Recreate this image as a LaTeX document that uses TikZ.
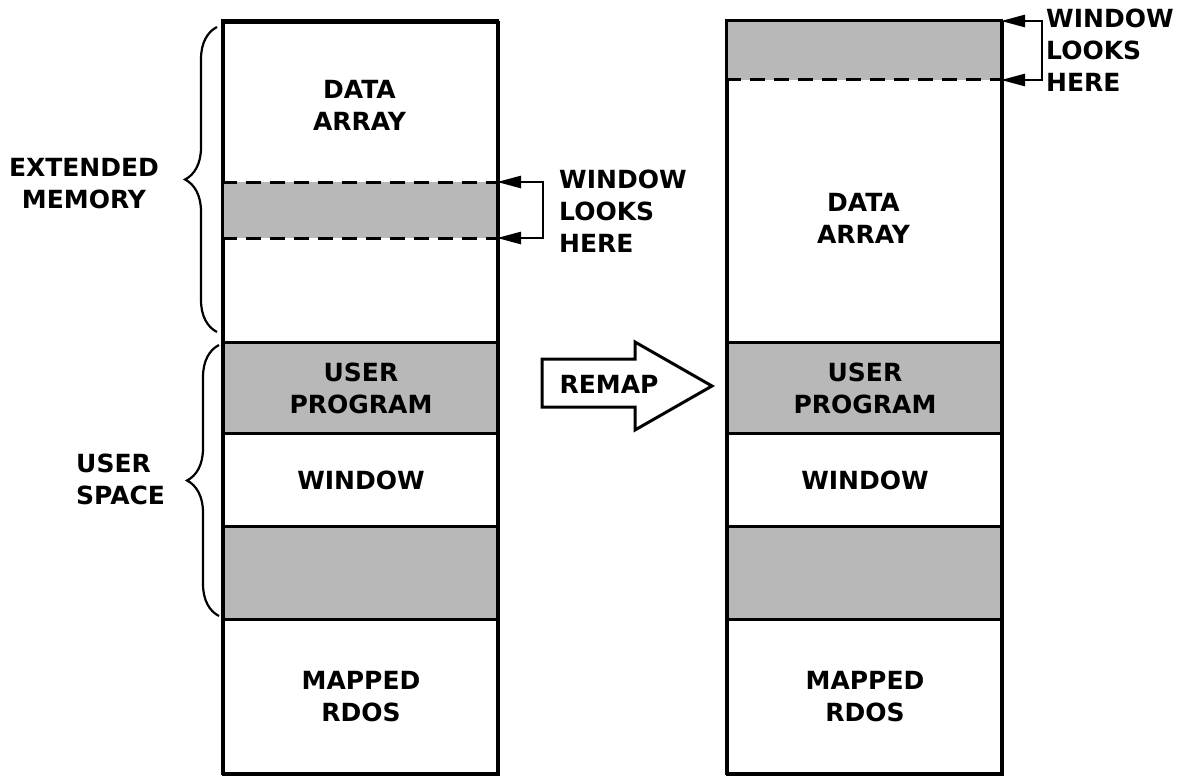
\documentclass[tikz,border=0pt]{standalone}
\usepackage{fontspec}
\setmainfont{DejaVu Sans}
\usetikzlibrary{decorations.pathreplacing,arrows.meta}
\begin{document}
\begin{tikzpicture}[x=1pt,y=-1pt,
  box/.style={draw, line width=3pt, minimum width=275pt, inner sep=0pt, anchor=north west},
  shaded/.style={fill=black!28},
  dashline/.style={line width=3pt, dash pattern=on 15pt off 9pt},
  loopline/.style={line width=2.6pt, {Triangle[length=24pt,width=12pt]}-{Triangle[length=24pt,width=12pt]}},
  lbl/.style={font=\bfseries\fontsize{25}{32}\selectfont, align=center, inner sep=0pt},
  lbll/.style={lbl, align=left, anchor=west},
  brc/.style={decorate, decoration={brace, amplitude=32pt, aspect=0.5}, line width=2.2pt}
]
\useasboundingbox (0,0) rectangle (1181,776);

% ---------- left column ----------
\node[box, minimum height=320pt] (Lext) at (222,21) {};
\fill[shaded] (222,182) rectangle (497,238);
\coordinate (Lwt) at (222,182); \coordinate (Lwtr) at (497,182);
\coordinate (Lwb) at (222,238); \coordinate (Lwbr) at (497,238);
\draw[dashline] (Lwt) -- (Lwtr);
\draw[dashline] (Lwb) -- (Lwbr);
\node[box, shaded, minimum height=91pt] (Luser) at (222,341) {};
\node[box, minimum height=93pt] (Lwin) at (222,432) {};
\node[box, shaded, minimum height=93pt] (Lsh) at (222,525) {};
\node[box, minimum height=155pt] (Lrdos) at (222,618) {};
\draw[line width=3pt] (222,21) rectangle (497,773);

\node[lbl] (Ldata) at (359.5,105) {DATA\\ARRAY};
\node[lbl] at (Luser.center) (Lusert) {USER\\PROGRAM};
\node[lbl] at (Lwin.center) (Lwint) {WINDOW};
\node[lbl] at (Lrdos.center) (Lrdost) {MAPPED\\RDOS};

\coordinate (Lat) at (543,182); \coordinate (Lab) at (543,238);
\draw[loopline] (Lwtr) -- (Lat) -- (Lab) -- (Lwbr);
\node[lbll] (Llook) at (559,211) {WINDOW\\LOOKS\\HERE};

% braces
\coordinate (B1b) at (217,332); \coordinate (B1t) at (217,27);
\draw[brc] (B1b) -- (B1t);
\coordinate (B2b) at (219,616); \coordinate (B2t) at (219,345);
\draw[brc] (B2b) -- (B2t);
\node[lbl] (ext) at (84,184) {EXTENDED\\MEMORY};
\node[lbll] (usp) at (76,479) {USER\\SPACE};

% ---------- remap arrow ----------
\draw[line width=3pt, line join=miter] (542,359) -- (635,359) -- (635,342) -- (712,386)
  -- (635,430) -- (635,407) -- (542,407) -- cycle;
\node[lbl] (remap) at (609,384) {REMAP};

% ---------- right column ----------
\node[box, minimum height=320pt] (Rext) at (726,21) {};
\fill[shaded] (726,21) rectangle (1001,80);
\coordinate (Rwt) at (726,21); \coordinate (Rwtr) at (1001,21);
\coordinate (Rwb) at (726,80); \coordinate (Rwbr) at (1001,80);
\draw[dashline] (Rwb) -- (Rwbr);
\node[box, shaded, minimum height=91pt] (Ruser) at (726,341) {};
\node[box, minimum height=93pt] (Rwin) at (726,432) {};
\node[box, shaded, minimum height=93pt] (Rsh) at (726,525) {};
\node[box, minimum height=155pt] (Rrdos) at (726,618) {};
\draw[line width=3pt] (726,21) rectangle (1001,773);

\node[lbl] (Rdata) at (863.5,218) {DATA\\ARRAY};
\node[lbl] at (Ruser.center) (Rusert) {USER\\PROGRAM};
\node[lbl] at (Rwin.center) (Rwint) {WINDOW};
\node[lbl] at (Rrdos.center) (Rrdost) {MAPPED\\RDOS};

\coordinate (Rat) at (1042,21); \coordinate (Rab) at (1042,80);
\draw[loopline] (Rwtr) -- (Rat) -- (Rab) -- (Rwbr);
\node[lbll] (Rlook) at (1046,50) {WINDOW\\LOOKS\\HERE};
\end{tikzpicture}
\end{document}
